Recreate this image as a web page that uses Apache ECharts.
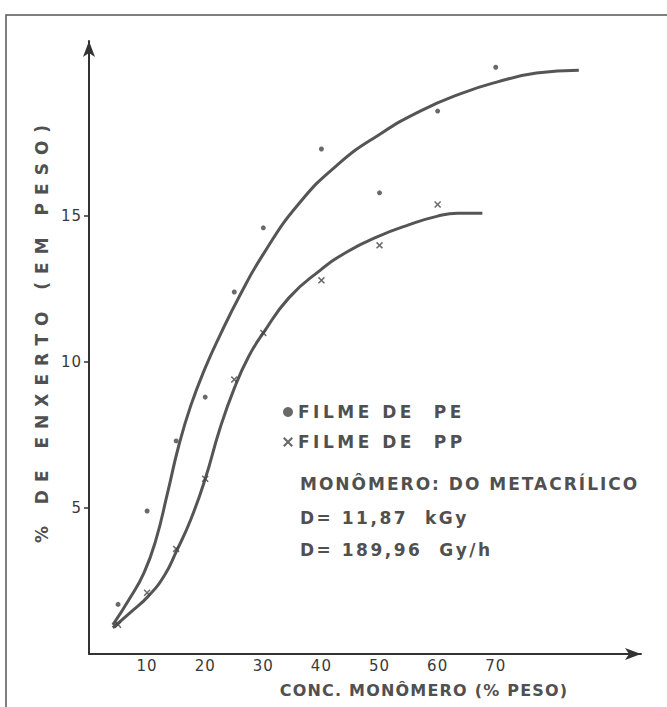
<!DOCTYPE html>
<html>
<head>
<meta charset="utf-8">
<script src="https://cdn.jsdelivr.net/npm/echarts@6/dist/echarts.min.js"></script>
<style>html,body{margin:0;padding:0;background:#fff;}#c{width:667px;height:707px;}</style>
</head>
<body>
<div id="c"></div>
<script>
// Measured points (x = conc. monômero % peso, y = % de enxerto)
var pePoints = [[5,1.7],[10,4.9],[15,7.3],[20,8.8],[25,12.4],[30,14.6],[40,17.3],[50,15.8],[60,18.6],[70,20.1]];
var ppPoints = [[5,1.0],[10,2.1],[15,3.6],[20,6.0],[25,9.4],[30,11.0],[40,12.8],[50,14.0],[60,15.4]];
// Hand-drawn fitted curves
var peCurve = [[4.1,1.0],[7,1.9],[9.5,2.8],[11.5,3.9],[13.5,5.5],[15.4,7.1],[17.5,8.5],[20,9.8],[22.5,10.9],[26,12.3],[30,13.7],[36,15.4],[43,16.8],[50,17.8],[57,18.6],[64,19.2],[70.3,19.6],[77,19.9],[84.3,20.0]];
var ppCurve = [[4.1,0.9],[7,1.4],[10.3,2.0],[13,2.7],[15,3.5],[17.5,4.6],[20,6.0],[22.5,7.7],[25,9.1],[27.5,10.2],[30,11.0],[34.4,12.2],[39.5,13.1],[44.6,13.8],[49.7,14.3],[55,14.7],[60,15.0],[63.4,15.1],[67.7,15.1]];
var xTickLabels = [10,20,30,40,50,60,70];
var yTickLabels = [5,10,15];
var seriesNames = ['FILME DE  PE','FILME DE  PP'];
var notes = ['MONÔMERO: DO METACRÍLICO','D= 11,87  kGy','D= 189,96  Gy/h'];
var xName = 'CONC. MONÔMERO (% PESO)';
var yName = '% DE ENXERTO (EM PESO)';

var xPath = 'path://M0,1.5L1.5,0L5,3.5L8.5,0L10,1.5L6.5,5L10,8.5L8.5,10L5,6.5L1.5,10L0,8.5L3.5,5Z';
var ink = '#505050';
var font = 'DejaVu Sans';

var chart = echarts.init(document.getElementById('c'), null, {renderer:'svg'});
chart.setOption({
  animation:false,
  backgroundColor:'#fff',
  grid:{left:89, right:26, top:41, bottom:53},
  xAxis:{
    type:'value', min:0, max:95, interval:10,
    splitLine:{show:false},
    axisLine:{lineStyle:{color:'#333', width:2}, symbol:['none','arrow'], symbolSize:[9,16]},
    axisTick:{show:false},
    axisLabel:{margin:4, fontSize:15, fontFamily:font, color:'#3a3a3a', customValues:xTickLabels}
  },
  yAxis:{
    type:'value', min:0, max:21, interval:5,
    splitLine:{show:false},
    axisLine:{show:true, lineStyle:{color:'#333', width:2}, symbol:['none','arrow'], symbolSize:[9,16]},
    axisTick:{show:true, length:5, lineStyle:{color:'#333', width:1.5}, customValues:yTickLabels},
    axisLabel:{margin:7, fontSize:15, fontFamily:font, color:'#3a3a3a', customValues:yTickLabels}
  },
  legend:{
    show:true, orient:'vertical', left:278, top:398, itemGap:12,
    itemWidth:10, itemHeight:10,
    textStyle:{fontSize:17, fontWeight:'bold', fontFamily:font, color:ink, lineHeight:18},
    data:[{name:seriesNames[0], icon:'circle'},{name:seriesNames[1], icon:xPath}],
    selectedMode:false
  },
  series:[
    {type:'line', data:peCurve, smooth:0.5, showSymbol:false, lineStyle:{color:'#555', width:3}, silent:true, z:2},
    {type:'line', data:ppCurve, smooth:0.5, showSymbol:false, lineStyle:{color:'#555', width:3}, silent:true, z:2},
    {type:'scatter', name:seriesNames[0], data:pePoints, symbol:'circle', symbolSize:5, itemStyle:{color:'#444'}, z:3},
    {type:'scatter', name:seriesNames[1], data:ppPoints, symbol:xPath, symbolSize:7, itemStyle:{color:'#444'}, z:3}
  ],
  graphic:[
    {type:'rect', shape:{x:6, y:15, width:700, height:720}, style:{fill:'none', stroke:'#555', lineWidth:1.5}, silent:true},
    {type:'text', x:42, y:330, rotation:Math.PI/2, style:{text:yName, fontSize:17, fontWeight:'bold', fontFamily:font, fill:ink, align:'center', verticalAlign:'middle'}},
    {type:'text', x:424, y:690, style:{text:xName, fontSize:16, fontWeight:'bold', fontFamily:font, fill:ink, align:'center', verticalAlign:'middle'}},
    {type:'text', x:300, y:484, style:{text:notes[0], fontSize:17, fontWeight:'bold', fontFamily:font, fill:ink, align:'left', verticalAlign:'middle'}},
    {type:'text', x:300, y:518, style:{text:notes[1], fontSize:17, fontWeight:'bold', fontFamily:font, fill:ink, align:'left', verticalAlign:'middle'}},
    {type:'text', x:300, y:550, style:{text:notes[2], fontSize:17, fontWeight:'bold', fontFamily:font, fill:ink, align:'left', verticalAlign:'middle'}}
  ]
});

// stencil-style letter spacing of the original lettering
function spaceLetters(){
  var texts = document.querySelectorAll('#c text');
  for (var i=0;i<texts.length;i++){
    var t = texts[i], s = t.textContent;
    var ls = '1px';
    if (s === yName) ls = '8px';
    else if (s === xName) ls = '1.2px';
    else if (s === seriesNames[0] || s === seriesNames[1]) ls = '3.5px';
    else if (s === notes[0]) ls = '2px';
    else if (notes.indexOf(s) >= 0) ls = '2.5px';
    t.style.letterSpacing = ls;
  }
}
chart.getZr().refreshImmediately();
spaceLetters();
chart.on('finished', spaceLetters);
</script>
</body>
</html>
